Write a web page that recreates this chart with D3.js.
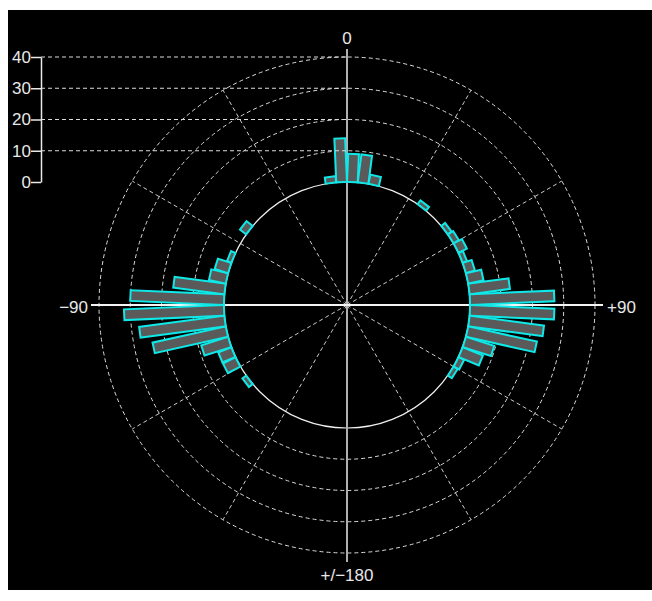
<!DOCTYPE html>
<html>
<head>
<meta charset="utf-8">
<script src="https://cdn.jsdelivr.net/npm/d3@7"></script>
<style>
  html, body { margin: 0; padding: 0; background: #fff; }
  svg { display: block; }
  text { font-family: "Liberation Sans", Arial, sans-serif; font-size: 17px; fill: #e8e8e8; }
</style>
</head>
<body>
<div id="chart"></div>
<script>
// histogram bins (start angle, degrees, 0 = up, clockwise) and counts
const binStarts = [-130, -120, -115, -110, -105, -100, -95, -90, -85, -80, -75, -70, -55,
                   -10, -5, 0, 5, 10,
                   35, 50, 55, 60, 65, 70, 75, 80, 85, 90, 95, 100, 105, 110, 115, 120];
const counts    = [1.5, 4.5, 4.5, 9, 24, 27.5, 32, 30, 16.5, 5.5, 4.5, 1.5, 2.5,
                   2, 14, 9, 9, 3,
                   1.5, 1.5, 2, 3, 1.5, 3, 5, 13, 27, 27, 24, 22.5, 9.5, 7, 2, 1.5];
const binWidth = 5;
const ringValues = [10, 20, 30, 40];
const axisTicks = [0, 10, 20, 30, 40];
const spokeAngles = [30, 60, 120, 150, 210, 240, 300, 330];
const compassLabels = [
  { angle: 0, text: "0" },
  { angle: 90, text: "+90" },
  { angle: -90, text: "\u221290" },
  { angle: 180, text: "+/\u2212180" }
];

const W = 652, H = 601;
const cx = 347, cy = 305;

const svg = d3.select("#chart").append("svg")
  .attr("width", W)
  .attr("height", H);

svg.append("rect")
  .attr("x", 8).attr("y", 10)
  .attr("width", W - 8).attr("height", 580)
  .attr("fill", "#000");

// radius scale: count -> distance from centre
const r = d3.scaleLinear().domain([0, 40]).range([123, 248]);
const rad = a => (a - 90) * Math.PI / 180;

const g = svg.append("g").attr("transform", `translate(${cx},${cy})`);

// dashed rings
g.selectAll(".ring")
  .data(ringValues)
  .enter()
  .append("circle")
  .attr("r", d => r(d))
  .attr("fill", "none")
  .attr("stroke", "#dcdcdc")
  .attr("stroke-width", 1)
  .attr("stroke-dasharray", "4,3");

// dashed spokes
g.selectAll(".spoke")
  .data(spokeAngles)
  .enter()
  .append("line")
  .attr("x1", 0).attr("y1", 0)
  .attr("x2", d => r(40) * Math.cos(rad(d)))
  .attr("y2", d => r(40) * Math.sin(rad(d)))
  .attr("stroke", "#cccccc")
  .attr("stroke-width", 1)
  .attr("stroke-dasharray", "4,3");

// dashed guides from left axis to centre
svg.selectAll(".guide")
  .data(ringValues)
  .enter()
  .append("line")
  .attr("x1", 41).attr("x2", cx)
  .attr("y1", d => cy - r(d))
  .attr("y2", d => cy - r(d))
  .attr("stroke", "#dcdcdc")
  .attr("stroke-width", 1)
  .attr("stroke-dasharray", "4,3");

// inner (zero) circle
g.append("circle")
  .attr("r", r(0))
  .attr("fill", "none")
  .attr("stroke", "#f0f0f0")
  .attr("stroke-width", 1.2);

// main axes
const L = 257;
g.append("line").attr("x1", 0).attr("x2", 0).attr("y1", -L + 1).attr("y2", L)
  .attr("stroke", "#b0b0b0").attr("stroke-width", 2);
g.append("line").attr("x1", -L + 1).attr("x2", L - 1).attr("y1", 0).attr("y2", 0)
  .attr("stroke", "#f4f4f4").attr("stroke-width", 2);

// bars
const halfW = r(0) * Math.sin((binWidth / 2) * Math.PI / 180);
const bars = binStarts.map((s, i) => ({ angle: s + binWidth / 2, value: counts[i] }));

g.selectAll(".bar")
  .data(bars)
  .enter()
  .append("rect")
  .attr("transform", d => `rotate(${d.angle})`)
  .attr("x", -halfW)
  .attr("y", d => -r(d.value))
  .attr("width", halfW * 2)
  .attr("height", d => r(d.value) - r(0))
  .attr("fill", "#5a5a5a")
  .attr("stroke", "#10e8e8")
  .attr("stroke-width", 2);

// compass labels
const labelPos = {
  "0": { x: 0, y: -261, anchor: "middle" },
  "90": { x: 260, y: 8, anchor: "start" },
  "-90": { x: -259, y: 8, anchor: "end" },
  "180": { x: 0, y: 276, anchor: "middle" }
};
g.selectAll(".clabel")
  .data(compassLabels)
  .enter()
  .append("text")
  .attr("x", d => labelPos[d.angle].x)
  .attr("y", d => labelPos[d.angle].y)
  .attr("text-anchor", d => labelPos[d.angle].anchor)
  .text(d => d.text);

// radial count axis on the left
const y = d3.scaleLinear().domain([0, 40]).range([cy - r(0), cy - r(40)]);
const axis = svg.append("g")
  .attr("transform", "translate(41,0)")
  .call(d3.axisLeft(y).tickValues(axisTicks).tickSize(10).tickSizeOuter(0).tickPadding(0));
axis.select(".domain").attr("stroke", "#e8e8e8").attr("stroke-width", 1.5);
axis.selectAll(".tick line").attr("stroke", "#e8e8e8").attr("stroke-width", 1.5);
axis.selectAll(".tick text")
  .attr("fill", "#e8e8e8")
  .style("font-size", "17px")
  .style("font-family", "Liberation Sans, Arial, sans-serif");
</script>
</body>
</html>
